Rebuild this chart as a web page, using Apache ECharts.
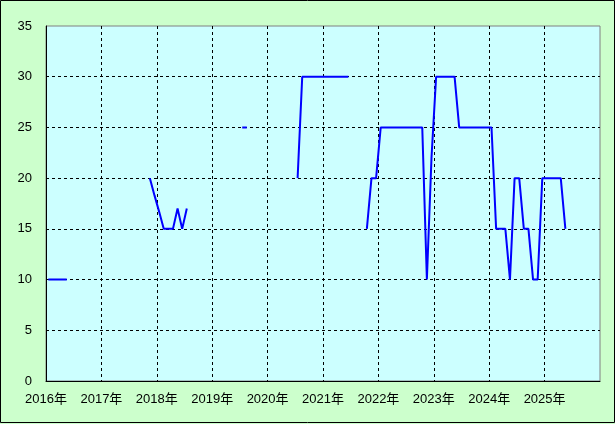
<!DOCTYPE html>
<html>
<head>
<meta charset="utf-8">
<script src="https://cdn.jsdelivr.net/npm/echarts@6/dist/echarts.min.js"></script>
<style>
html,body{margin:0;padding:0;background:#ccffcc;}
#c{width:615px;height:424px;}
</style>
</head>
<body>
<div id="c"></div>
<script>
// Monthly observations (null = gap in the line)
const months = [
  '2016-01','2016-02','2016-03','2016-04','2016-05','2016-06',
  '2017-11','2017-12','2018-01','2018-02','2018-03','2018-04','2018-05','2018-06','2018-07','2018-08',
  '2019-07','2019-08','2019-09',
  '2020-07','2020-08','2020-09','2020-10','2020-11','2020-12','2021-01','2021-02','2021-03','2021-04','2021-05','2021-06','2021-07',
  '2021-10','2021-11','2021-12','2022-01','2022-02','2022-03','2022-04','2022-05','2022-06','2022-07','2022-08','2022-09','2022-10',
  '2022-11','2022-12','2023-01','2023-02','2023-03','2023-04','2023-05','2023-06','2023-07','2023-08','2023-09','2023-10','2023-11','2023-12',
  '2024-01','2024-02','2024-03','2024-04','2024-05','2024-06','2024-07','2024-08','2024-09','2024-10','2024-11','2024-12',
  '2025-01','2025-02','2025-03','2025-04','2025-05'
];
const values = [
  10,10,10,10,10,null,
  20,18.3,16.7,15,15,15,17,15,17,null,
  25,25,null,
  20,30,30,30,30,30,30,30,30,30,30,30,null,
  15,20,20,25,25,25,25,25,25,25,25,25,25,
  10,22,30,30,30,30,30,25,25,25,25,25,25,25,
  25,15,15,15,10,20,20,15,15,10,10,20,
  20,20,20,20,15
];
const yearTicks = [2016,2017,2018,2019,2020,2021,2022,2023,2024,2025];
const yTicks = [0,5,10,15,20,25,30,35];

function toYear(m){
  const p = m.split('-');
  return Number(p[0]) + (Number(p[1]) - 0.5) / 12;
}
const seriesData = months.map((m,i)=>[toYear(m), values[i]]);

const font = "'Liberation Sans','Noto Sans CJK JP',sans-serif";
const chart = echarts.init(document.getElementById('c'));
chart.setOption({
  backgroundColor:'#ccffcc',
  animation:false,
  grid:{left:46,top:26,right:15,bottom:43,show:true,backgroundColor:'#ccffff',borderColor:'#808080',borderWidth:1},
  xAxis:{
    type:'value',min:2016,max:2026,interval:1,
    axisLine:{show:true,lineStyle:{color:'#000',width:1}},
    axisTick:{show:false},
    axisLabel:{color:'#000',fontSize:13,fontFamily:font,margin:12,
      formatter:v=> yearTicks.indexOf(v)>=0 ? v+'年' : ''},
    splitLine:{show:true,showMinLine:false,showMaxLine:false,lineStyle:{color:'#000',type:[3,3],width:1}}
  },
  yAxis:{
    type:'value',min:0,max:35,interval:5,
    axisLine:{show:true,lineStyle:{color:'#000',width:1}},
    axisTick:{show:false},
    axisLabel:{color:'#000',fontSize:13,fontFamily:font,margin:14,
      formatter:v=> yTicks.indexOf(v)>=0 ? String(v) : ''},
    splitLine:{show:true,showMinLine:false,showMaxLine:false,lineStyle:{color:'#000',type:[3,3],width:1}}
  },
  graphic:[{type:'rect',shape:{x:0.5,y:0.5,width:614,height:422},style:{fill:null,stroke:'#000',lineWidth:1},silent:true}],
  series:[{
    type:'line',data:seriesData,showSymbol:false,connectNulls:false,
    lineStyle:{color:'#0000ff',width:2},itemStyle:{color:'#0000ff'}
  }]
});
</script>
</body>
</html>
